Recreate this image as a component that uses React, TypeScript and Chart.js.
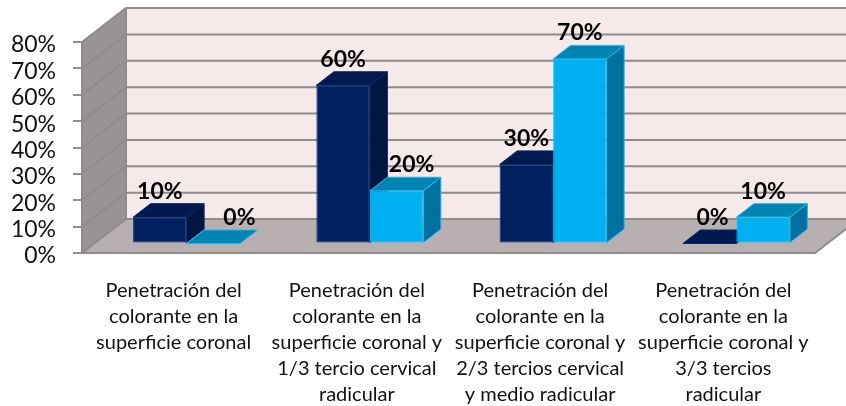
import React, { useEffect, useRef } from "react";
import { Chart, registerables } from "chart.js";

Chart.register(...registerables);

const categories: string[][] = [
  ["Penetración del", "colorante en la", "superficie coronal"],
  ["Penetración del", "colorante en la", "superficie coronal y", "1/3 tercio cervical", "radicular"],
  ["Penetración del", "colorante en la", "superficie coronal y", "2/3 tercios cervical", "y medio radicular"],
  ["Penetración del", "colorante en la", "superficie coronal y", "3/3 tercios", "radicular"],
];
const seriesDark = [10, 60, 30, 0];
const seriesLight = [0, 20, 70, 10];
const labelNudgeDark = [0, 0, 0, 3];
const labelNudgeLight = [26, 15, 0, 0];

const FONT = "Lato, Carlito, sans-serif";
const WALL_DX = 44;
const WALL_DY = 34;
const BAR_SHIFT_X = 13;
const BAR_SHIFT_Y = 9.5;
const BAR_DX = 17.5;
const BAR_DY = 13.5;
const GRID = "#8f8c8c";

const looks = [
  { top: "#001a4f", side: "#00153f", edge: "#0c2766", nudge: labelNudgeDark },
  { top: "#0084b4", side: "#0070a0", edge: "#1fb9f2", nudge: labelNudgeLight },
];

function poly(ctx: CanvasRenderingContext2D, pts: number[][], fill: string, stroke?: string) {
  ctx.beginPath();
  pts.forEach(([x, y], i) => (i ? ctx.lineTo(x, y) : ctx.moveTo(x, y)));
  ctx.closePath();
  ctx.fillStyle = fill;
  ctx.fill();
  if (stroke) {
    ctx.strokeStyle = stroke;
    ctx.lineWidth = 1;
    ctx.stroke();
  }
}

const scene3d = {
  id: "scene3d",
  beforeDatasetsDraw(chart: any) {
    const { ctx, chartArea: a, scales } = chart;
    const y = scales.y;
    const W = chart.width;
    const backL = a.left + WALL_DX;
    const backT = a.top - WALL_DY;
    const backB = a.bottom - WALL_DY;
    ctx.save();
    poly(ctx, [[backL, backT], [W, backT], [W, backB], [backL, backB]], "#f5e9e9");
    poly(ctx, [[a.left, a.bottom], [a.right, a.bottom], [a.right + WALL_DX, backB], [backL, backB]], "#b8b0b0");
    poly(ctx, [[a.left, a.top], [backL, backT], [backL, backB], [a.left, a.bottom]], "#989494");
    ctx.strokeStyle = GRID;
    ctx.lineWidth = 2;
    y.ticks.forEach((t: any) => {
      const py = y.getPixelForValue(t.value);
      ctx.beginPath();
      ctx.moveTo(a.left, py);
      ctx.lineTo(backL, py - WALL_DY);
      ctx.lineTo(W, py - WALL_DY);
      ctx.stroke();
    });
    ctx.beginPath();
    ctx.moveTo(a.left, a.top);
    ctx.lineTo(a.left, a.bottom);
    ctx.lineTo(a.right, a.bottom);
    ctx.lineTo(a.right + WALL_DX, backB);
    ctx.moveTo(backL, backT);
    ctx.lineTo(backL, backB);
    ctx.stroke();
    // Bar sides and tops go first, so the fronts drawn by Chart.js cover them.
    ctx.translate(BAR_SHIFT_X, -BAR_SHIFT_Y);
    looks.forEach((look, i) => {
      chart.getDatasetMeta(i).data.forEach((bar: any) => {
        const l = bar.x - bar.width / 2;
        const r = bar.x + bar.width / 2;
        const t = bar.y;
        const b = bar.base;
        if (b > t) {
          poly(ctx, [[r, t], [r + BAR_DX, t - BAR_DY], [r + BAR_DX, b - BAR_DY], [r, b]], look.side, look.edge);
        }
        poly(ctx, [[l, t], [l + BAR_DX, t - BAR_DY], [r + BAR_DX, t - BAR_DY], [r, t]], look.top, look.edge);
      });
    });
    ctx.restore();
  },
  beforeDatasetDraw(chart: any) {
    chart.ctx.save();
    chart.ctx.translate(BAR_SHIFT_X, -BAR_SHIFT_Y);
  },
  afterDatasetDraw(chart: any) {
    chart.ctx.restore();
  },
  afterDatasetsDraw(chart: any) {
    const { ctx } = chart;
    ctx.save();
    ctx.translate(BAR_SHIFT_X, -BAR_SHIFT_Y);
    ctx.font = `bold 23px ${FONT}`;
    ctx.fillStyle = "#000";
    ctx.textAlign = "center";
    ctx.textBaseline = "middle";
    chart.data.datasets.forEach((ds: any, i: number) => {
      chart.getDatasetMeta(i).data.forEach((bar: any, j: number) => {
        ctx.fillText(`${ds.data[j]}%`, bar.x + looks[i].nudge[j], bar.y - 26);
      });
    });
    ctx.restore();
  },
};

export default function App() {
  const ref = useRef<HTMLCanvasElement>(null);
  useEffect(() => {
    const chart = new Chart(ref.current as HTMLCanvasElement, {
      type: "bar",
      data: {
        labels: categories as any,
        datasets: [
          { label: "A", data: seriesDark, backgroundColor: "#00205f", borderColor: looks[0].edge, borderWidth: 1, borderSkipped: false },
          { label: "B", data: seriesLight, backgroundColor: "#00b0f0", borderColor: looks[1].edge, borderWidth: 1, borderSkipped: false },
        ],
      },
      options: {
        animation: false,
        responsive: false,
        layout: { autoPadding: false, padding: { top: 42, right: 31, left: 0, bottom: 0 } },
        categoryPercentage: 0.584,
        barPercentage: 1,
        plugins: { legend: { display: false }, tooltip: { enabled: false } },
        scales: {
          x: {
            grid: { display: false },
            border: { display: false },
            afterFit(s: any) { s.height = 153; },
            ticks: {
              autoSkip: false,
              maxRotation: 0,
              padding: 17,
              color: "#111",
              font: { family: FONT, size: 20, lineHeight: "26px" },
            },
          },
          y: {
            min: 0,
            max: 80,
            grid: { drawOnChartArea: false, color: GRID, lineWidth: 2, tickLength: 9 },
            border: { display: false },
            afterFit(s: any) { s.width = 82; },
            ticks: {
              stepSize: 10,
              autoSkip: false,
              padding: 17,
              labelOffset: 3,
              color: "#111",
              font: { family: FONT, size: 23 },
              callback: (v: any) => `${v}%`,
            },
          },
        },
      } as any,
      plugins: [scene3d],
    });
    return () => chart.destroy();
  }, []);
  return (
    <div style={{ position: "fixed", left: 0, top: 0, width: 846, height: 406, background: "#fff" }}>
      <canvas ref={ref} width={846} height={406} style={{ display: "block" }} />
    </div>
  );
}
